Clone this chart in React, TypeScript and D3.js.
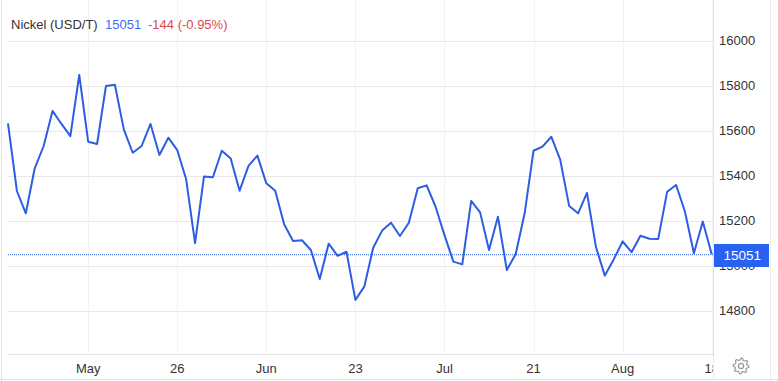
import React from "react";
import * as d3 from "d3";

const values: number[] = [
  15633, 15332, 15233, 15433, 15532, 15688, 15630, 15576, 15848, 15551,
  15541, 15799, 15804, 15606, 15502, 15532, 15630, 15492, 15569, 15514,
  15384, 15100, 15396, 15393, 15511, 15476, 15333, 15444, 15489, 15366,
  15333, 15184, 15110, 15113, 15070, 14941, 15098, 15044, 15062, 14848,
  14907, 15080, 15156, 15191, 15132, 15191, 15344, 15357, 15262, 15136,
  15018, 15006, 15288, 15237, 15070, 15218, 14981, 15052, 15233, 15511,
  15529, 15573, 15470, 15265, 15233, 15324, 15084, 14956, 15028, 15108,
  15060, 15133, 15120, 15119, 15329, 15359, 15240, 15055, 15196, 15051,
];

const xTickIndex: number[] = [9, 19, 29, 39, 49, 59, 69, 79];
const xTickLabels: string[] = ["May", "26", "Jun", "23", "Jul", "21", "Aug", "18"];
const yTicks: number[] = [14800, 15000, 15200, 15400, 15600, 15800, 16000];

const title = "Nickel (USD/T)";
const lastValue = 15051;
const changeText = "-144 (-0.95%)";

const W = 778;
const H = 381;
const FONT = "'Liberation Sans', Arial, sans-serif";
const BLUE = "#2d5de3";

export default function App() {
  const plotLeft = 8;
  const plotRight = 713;
  const axisY = 354;
  const x = d3.scaleLinear().domain([0, values.length - 1]).range([8, 711.7]);
  const y = d3.scaleLinear().domain([14800, 16000]).range([310.7, 40.7]);
  const line = d3
    .line<number>()
    .x((_, i) => x(i))
    .y((d) => y(d))
    .curve(d3.curveLinear);

  // gear icon
  const gcx = 741,
    gcy = 366;
  const gearPts: [number, number][] = [];
  const teeth = 8;
  for (let k = 0; k < teeth * 4; k++) {
    const a = (k / (teeth * 4)) * Math.PI * 2;
    const r = k % 4 === 0 || k % 4 === 1 ? 7.8 : 6;
    gearPts.push([gcx + r * Math.cos(a), gcy + r * Math.sin(a)]);
  }
  const gearPath = d3.line().curve(d3.curveLinearClosed)(gearPts) || "";

  return (
    <div style={{ position: "absolute", left: 0, top: 0 }}>
      <svg width={W} height={H} style={{ display: "block", background: "#fff" }}>
        <defs>
          <clipPath id="plotclip">
            <rect x={0} y={0} width={plotRight} height={H} />
          </clipPath>
        </defs>
        {/* frame */}
        <line x1={1.5} x2={1.5} y1={0} y2={H} stroke="#e2e2e2" />
        <line x1={770.5} x2={770.5} y1={0} y2={H} stroke="#ececec" />
        <line x1={0} x2={W} y1={379.5} y2={379.5} stroke="#e2e2e2" />
        <line x1={plotRight + 0.5} x2={plotRight + 0.5} y1={0} y2={380} stroke="#e6e6e6" />
        {/* vertical grid */}
        {xTickIndex.map((t) => (
          <line
            key={"vg" + t}
            x1={Math.round(x(t)) + 0.5}
            x2={Math.round(x(t)) + 0.5}
            y1={0}
            y2={axisY}
            stroke="#f3f3f3"
          />
        ))}
        {/* horizontal grid */}
        {yTicks.map((t) => (
          <line
            key={"hg" + t}
            x1={plotLeft}
            x2={plotRight}
            y1={Math.round(y(t)) + 0.5}
            y2={Math.round(y(t)) + 0.5}
            stroke="#e8e8e8"
          />
        ))}
        <line x1={plotLeft} x2={plotRight + 2} y1={axisY + 0.5} y2={axisY + 0.5} stroke="#e2e2e2" />
        {/* last value dotted line */}
        <line
          x1={plotLeft}
          x2={plotRight}
          y1={y(lastValue) + 0.5}
          y2={y(lastValue) + 0.5}
          stroke={BLUE}
          strokeWidth={1}
          strokeDasharray="1,1"
        />
        {/* series */}
        <path d={line(values) || ""} fill="none" stroke={BLUE} strokeWidth={2} strokeLinejoin="round" />
        {/* x labels */}
        <g clipPath="url(#plotclip)">
          {xTickIndex.map((t, i) => (
            <text
              key={"xl" + t}
              x={x(t)}
              y={372.5}
              textAnchor="middle"
              fontFamily={FONT}
              fontSize={13}
              fill="#333"
            >
              {xTickLabels[i]}
            </text>
          ))}
        </g>
        {/* y labels (15000 sits beneath the last-value box, as in the reference) */}
        {yTicks.map((t) => (
          <text
            key={"yl" + t}
            x={719}
            y={y(t) + 4.5}
            fontFamily={FONT}
            fontSize={13}
            fill="#333"
          >
            {t}
          </text>
        ))}
        {/* last value label */}
        <rect x={714} y={244} width={55} height={23} fill="#2962f0" />
        <text x={723.5} y={260} fontFamily={FONT} fontSize={13.5} fill="#fff">
          {lastValue}
        </text>
        {/* title */}
        <text x={11} y={29} fontFamily={FONT} fontSize={13}>
          <tspan fill="#333">{title}</tspan>
          <tspan x={105} fill="#3b6ef0">
            {lastValue}
          </tspan>
          <tspan x={148} fill="#e04848">
            {changeText}
          </tspan>
        </text>
        {/* gear */}
        <path d={gearPath} fill="none" stroke="#999" strokeWidth={1.2} strokeLinejoin="round" />
        <circle cx={gcx} cy={gcy} r={2.6} fill="none" stroke="#999" strokeWidth={1.2} />
      </svg>
    </div>
  );
}
